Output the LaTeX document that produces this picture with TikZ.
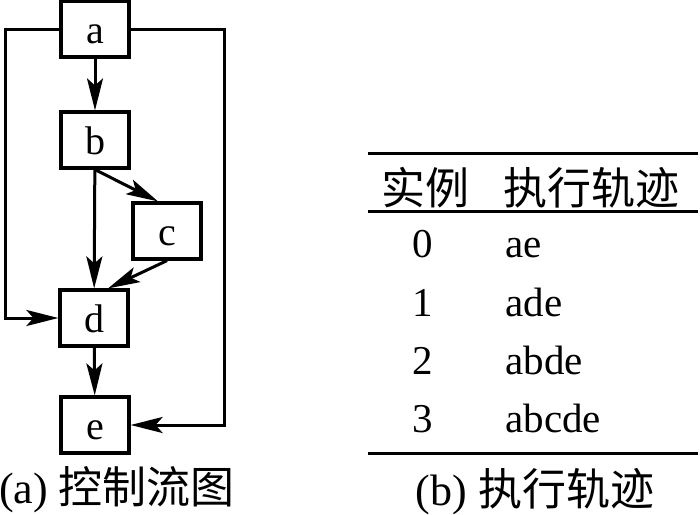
\documentclass[tikz,border=0pt]{standalone}
\usepackage{fontspec}
\setmainfont{Liberation Serif}
\newfontfamily\cjk{Noto Sans CJK SC}
\usetikzlibrary{arrows.meta, positioning}

\tikzset{
	blk/.style={draw, line width=1.6pt, minimum width=34pt, minimum height=28pt, inner sep=0pt, text height=14pt, text depth=0pt, font=\fontsize{20}{22}\selectfont},
	flow/.style={line width=1.5pt, -{Stealth[length=16pt, width=8pt, inset=3.5pt]}},
	rule/.style={line width=1.5pt},
	cell/.style={font=\fontsize{20.5}{22}\selectfont, inner sep=0pt},
	hcell/.style={font=\fontsize{22}{24}\selectfont\cjk, inner sep=0pt},
	captxt/.style={font=\fontsize{22}{24}\selectfont, inner sep=0pt}
}

\begin{document}
\begin{tikzpicture}[x=0.5pt, y=-0.5pt]
		\useasboundingbox (0,0) rectangle (700,514);
		\def\L{5};
		\def\R{224};

		% control flow graph
		\node[blk] (a) at (95,29) {a};
		\node[blk] (b) at (95,140) {b};
		\node[blk] (c) at (167,231) {c};
		\node[blk] (d) at (94,318) {d};
		\node[blk] (e) at (95,425) {e};

		\draw[flow] (a) -- (b);
		\draw[flow] (b) -- (d);
		\draw[flow] (b.south) -- ([xshift=-4.5pt]c.north);
		\draw[flow] (c.south) -- ([xshift=7pt]d.north);
		\draw[flow] (d) -- (e);
		\draw[flow] (a.west) -| (\L,318) -- (d.west);
		\draw[flow] (a.east) -| (\R,425) -- (e.east);

		\node[captxt] (capa) at (117,490) {(a) {\cjk 控制流图}};

		% trace table
		\draw[rule] (368,153) -- (698,153);
		\draw[rule] (368,211) -- (698,211);
		\draw[rule] (368,453) -- (698,453);

		\node[hcell] (hcase) at (425,188) {实例};
		\node[hcell, anchor=west] (htrace) at (503,188) {执行轨迹};

		\foreach \i/\t/\y in {0/ae/257, 1/ade/316, 2/abde/374, 3/abcde/432} {
			\node[cell, anchor=base] (n\i) at (423,\y) {\i};
			\node[cell, anchor=base west] (t\i) at (505,\y) {\t};
		}

		\node[captxt] (capb) at (535,492) {(b) {\cjk 执行轨迹}};
	\end{tikzpicture}
\end{document}
